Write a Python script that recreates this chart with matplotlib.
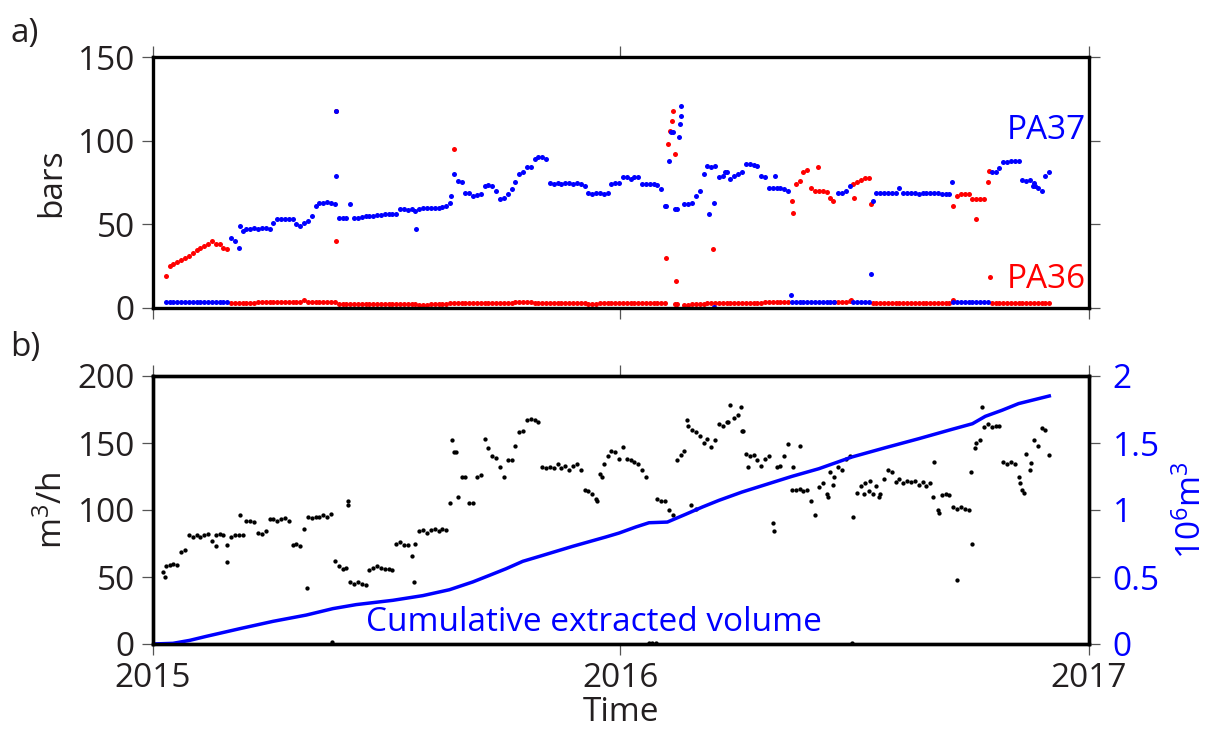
import numpy as np
import matplotlib
matplotlib.use('Agg')
import matplotlib.pyplot as plt
import matplotlib.dates as mdates
from datetime import datetime

plt.rcParams['font.family'] = ['Open Sans', 'DejaVu Sans']
plt.rcParams['mathtext.fontset'] = 'custom'
plt.rcParams['mathtext.rm'] = 'Open Sans'

nan = np.nan

# sampling days (days since 2015-01-01), one reading every 3 days
days = np.arange(10, 701, 3)

# well head pressure (bars), PA36 = red, PA37 = blue
pa36 = [19, 25, 26, 27.5, 28.5, 30, 31, 33, 34.5, 36,
        37, 38.5, 40, 38, 38, 36, 35, 3.2, 3.2, 3.2,
        3.2, 3.2, 3.2, 3.2, 3.4, 3.4, 3.6, 3.6, 3.6, 3.6,
        3.6, 3.6, 3.6, 3.6, 3.8, 3.8, 4.5, 3.8, 3.6, 3.6,
        3.6, 3.6, 3.6, 3.6, 3.6, 2.2, 2.2, 2.2, 2.2, 2.2,
        2.2, 2.2, 2.2, 2.2, 2.2, 2.2, 2.2, 2.2, 2.2, 2.2,
        2.2, 2.2, 2.2, 2.2, 2.2, 2.2, 2, 1.6, 2, 2.2,
        2.2, 2.2, 2.4, 2.6, 3.2, 3.2, 3, 3, 3, 3,
        3, 3, 3.2, 3.2, 3, 3, 3.2, 3.2, 3.2, 3.2,
        3.2, 3.4, 3.4, 3.6, 3.6, 3.4, 3.2, 3.2, 3.2, 2.8,
        2.8, 2.8, 3, 3, 3, 3, 2.8, 2.8, 2.8, 2.8,
        2.6, 2.6, 2.4, 2.8, 3, 3, 3, 3, 3, 3,
        3, 3, 3, 3, 3, 3, 3, 3, 2.8, 2.8,
        2.8, nan, nan, 2.6, nan, 2, 2, 2.2, 2.4, 2.6,
        2.6, 2.8, 3, 3, 3, 3, 3, 3.2, 3.2, 3.2,
        3.2, 3.2, 3.2, 3.2, 3.2, 3.2, 3.4, 3.4, 3.4, 3.4,
        3.4, 3.4, 3.6, 64, 74, 76, 81, 82.5, 72, 70,
        70, 70, 69.5, 66, 3.4, 3.4, 3.6, 3.6, 4, 74,
        75, 76.5, 77.5, 77.5, 3, 3, 3, 3, 3, 3,
        3, 3, 3, 3, 3, 2.8, 2.8, 2.8, 3, 3,
        3, 3, 3, 3, 3.2, 61, 67, 68, 68, 68,
        65, 65, 65, 65, 75, 3.2, 3.2, 3.2, 3.2, 3.2,
        3.2, 3.2, 3, 3, 3, 3, 3, 2.8, 2.8, 2.8,
        2.8]

pa37 = [3.8, 3.8, 3.8, 3.8, 3.8, 3.8, 3.8, 3.8, 3.8, 3.8,
        3.7, 3.7, 3.7, 3.7, 3.6, 3.6, 3.6, 42, 40, 36,
        46, 47, 47, 48, 47, 48, 48, 47, 51, 53,
        53, 53, 53, 53, 50, 49, 51, 52, 55, 61,
        63, 63, 63.5, 63, 62, 54, 54, 54, 62, 54,
        54, 54.5, 55, 55, 55, 55.5, 55.5, 56, 56, 56,
        56, 59, 59, 58.5, 59, 58, 59, 60, 60, 60,
        60, 60, 60.5, 61, 63, 80, 76, 75, 69, 69,
        67, 67.5, 68, 73, 73.5, 73, 70, 65, 66, 68,
        71, 75, 80, 81, 84, 84.5, 89, 90, 90, 89,
        74.5, 74, 74.5, 74, 74.5, 74.5, 74, 74.5, 74, 73,
        68.5, 68, 68.5, 68.5, 68, 69, 74, 74.5, 74.5, 78.4,
        78.5, 77, 78.5, 78, 74, 74, 74, 74, 73.5, 71,
        61, 88, 105, 59, 121, 62, 62, 63, 67, 70,
        80, 85, 84, 85, 78.5, 79, 81, 77, 79, 80,
        81, 86, 86, 85.5, 85, 79, 78.5, 72, 72, 72,
        72, 71, 70, 3.4, 3.4, 3.4, 3.4, 3.4, 3.4, 3.4,
        3.4, 3.4, 3.4, 3.4, 3.4, 69, 69, 70, 73, 3.4,
        3.4, 3.4, 3.4, 3.4, 64, 69, 69, 69, 69, 69,
        69, 71.5, 69, 68.5, 68.5, 68.5, 68, 68.5, 68.5, 68.5,
        68.5, 68.5, 68, 68, 68, 3.4, 3.4, 3.4, 3.4, 3.4,
        3.4, 3.4, 3.4, 3.4, 3.4, 81, 81.5, 83.5, 87, 87.4,
        87.6, 87.8, 88, 76.5, 76, 76.5, 74.5, 72, 70, 79,
        81]

# isolated readings between the regular samples
pa36_x_day = [143, 143, 235.4, 401, 402.5, 403.7, 405, 406, 408, 408.2, 407.5,
              437.5, 499.5, 519, 531, 545.5, 547.4, 561, 625, 642.4, 652.8, 654]
pa36_x_val = [118, 40, 95, 29.6, 98, 106, 112, 118, 92, 16.4, 2.6,
              35, 57, 84, 64, 5, 66, 62, 5, 53, 82, 18.6]
pa37_x_day = [68, 143, 143.3, 205.5, 233, 401, 404.3, 407.8, 410.8, 411.3, 412.5,
              434.2, 438.3, 438.3, 447, 486, 498, 561, 624, 687, 689]
pa37_x_val = [49, 118, 79, 47, 67, 61, 105, 59, 102, 110, 115,
              56, 63, 0.3, 81.5, 78.6, 8, 20.6, 75, 73, 73]

# pumping rate (m3/h)
flow = [58, 59, 60, 59, 69, 70, 81, 80, 81, 80,
        81, 82, 77, 81, 82, 81, 74, 80, 81, 81,
        81, 92, 92, 91, 83, 82, 84, 93, 93, 92,
        93, 94, 92, 74, 75, 73, 86, 95, 94, 95,
        95, 96, 95, 97, 62, 58, 56, 57, 46, 45,
        46, 45, 44, 55, 57, 58, 57, 56, 56, 55,
        75, 76, 74, 74, 66, 75, 84, 85, 83, 85,
        86, 84, 86, 85, 105, 143, 110, 125, 125, 105,
        105, 125, 126, 153, 146, 140, 139, 132, 125, 137,
        137, 148, 158, 159, 167, 168, 167, 166, 132, 131,
        132, 131, 134, 131, 133, 130, 133, 134, 130, 115,
        114, 112, 108, 127, 134, 140, 144, 143, 138, 147,
        138, 137, 136, 134, 130, 125, nan, nan, 108, 107,
        107, 100, 96, 137, 141, 144, 163, 160, 158, 155,
        150, 153, 147, 152, 164, 163, 166, 178, 169, 171,
        159, 142, 140, 141, 137, 133, 138, 140, 90, 132,
        133, 140, 149, 115, 115, 116, 114, 115, 107, 96,
        117, 120, 112, 128, 125, 132, 130, 138, 140, 95,
        113, 118, 120, 114, 112, 118, 112, 123, 130, 128,
        121, 123, 120, 122, 121, 122, 119, 121, 118, 120,
        136, 100, 111, 112, 111, 102, 101, 102, 101, 100,
        75, 150, 152, 162, 164, 162, 163, 163, 136, 134,
        136, 134, 125, 115, 142, 130, 152, 148, 161, 160,
        141]

flow_x_day = [8, 9, 49, 58, 68, 120, 140, 152, 152.5, 204, 233.5, 236.5,
              347, 351, 387, 390, 393, 417, 420, 424, 449, 459, 461, 465,
              485, 500, 505.5, 527, 531, 546, 555, 560, 567, 609, 614, 628,
              639, 642, 647.5, 677, 680, 686]
flow_x_val = [54, 50, 73, 61, 96, 42, 1.5, 107, 104, 46, 152, 143.5,
              107, 125, 0.5, 0.5, 0.5, 167, 104, 101, 166, 177, 159, 132,
              84, 132, 148, 110, 119, 0.5, 112, 122, 110, 110, 98, 48,
              128, 146, 177, 120, 113, 135]

# cumulative extracted volume (10^6 m3)
cum_day = [0, 15.6, 28.6, 41.6, 67.6, 93.7, 119.7, 140.5, 158.7, 187.3, 210.7,
           231.5, 249.7, 262.7, 275.8, 288.8, 301.8, 327.8, 353.8, 364, 377,
           387.4, 401.7, 416, 429, 442, 460, 481, 499, 520, 546, 572, 598,
           624, 640, 650, 663, 676, 700]
cum_vol = [0, 0.005, 0.027, 0.057, 0.114, 0.169, 0.216, 0.264, 0.294, 0.326,
           0.361, 0.405, 0.463, 0.512, 0.562, 0.617, 0.654, 0.729, 0.799, 0.828,
           0.873, 0.905, 0.91, 0.968, 1.022, 1.072, 1.134, 1.197, 1.251, 1.308,
           1.396, 1.465, 1.532, 1.602, 1.644, 1.699, 1.744, 1.794, 1.851]

t0 = mdates.date2num(datetime(2015, 1, 1))
t16 = mdates.date2num(datetime(2016, 1, 1))
t17 = mdates.date2num(datetime(2017, 1, 1))

txt = '#231f20'
fs = 24

W, H = 1216, 731
fig = plt.figure(figsize=(W / 100, H / 100), dpi=100)
ax1 = fig.add_axes([153 / W, 1 - 308 / H, 936 / W, 251 / H])
ax2 = fig.add_axes([153 / W, 1 - 644 / H, 936 / W, 268 / H])
ax3 = ax2.twinx()


def style(ax):
    for s in ax.spines.values():
        s.set_linewidth(2.4)
    ax.tick_params(direction='out', length=8, width=0.9, color='#555555',
                   labelsize=fs, pad=5, labelcolor=txt)
    ax.set_xlim(t0, t17)
    ax.set_xticks([t0, t16, t17])
    ax.set_xticklabels(['2015', '2016', '2017'])


# panel a
style(ax1)
ms = 3.6
ax1.plot(t0 + days, pa36, 'o', color='red', ms=ms, mew=0)
ax1.plot(t0 + np.array(pa36_x_day), pa36_x_val, 'o', color='red', ms=ms, mew=0)
ax1.plot(t0 + days, pa37, 'o', color='blue', ms=ms, mew=0)
ax1.plot(t0 + np.array(pa37_x_day), pa37_x_val, 'o', color='blue', ms=ms, mew=0)
ax1.set_ylim(0, 150)
ax1.set_yticks([0, 50, 100, 150])
ax1.tick_params(top=True, right=True, labelbottom=False)
ax1.set_ylabel('bars', fontsize=fs, color=txt)
ax1.yaxis.set_label_coords(-0.091, 0.5)
ax1.text(0.997, 0.709, 'PA37', color='blue', fontsize=fs, ha='right', va='center',
         transform=ax1.transAxes)
ax1.text(0.997, 0.112, 'PA36', color='red', fontsize=fs, ha='right', va='center',
         transform=ax1.transAxes)

# panel b
style(ax2)
ax2.plot(t0 + days, flow, 'o', color='black', ms=3.1, mew=0, clip_on=False)
ax2.plot(t0 + np.array(flow_x_day), flow_x_val, 'o', color='black', ms=3.1, mew=0,
         clip_on=False)
ax2.set_ylim(0, 200)
ax2.set_yticks([0, 50, 100, 150, 200])
ax2.tick_params(top=True, right=False)
ax2.set_ylabel(r'$\mathrm{m^3/h}$', fontsize=fs, color=txt)
ax2.yaxis.set_label_coords(-0.0887, 0.5)
ax2.set_xlabel('Time', fontsize=fs, color=txt, labelpad=1)

ax3.plot(t0 + np.array(cum_day), cum_vol, '-', color='blue', lw=2.5,
         solid_joinstyle='round')
ax3.set_ylim(0, 2)
ax3.set_yticks([0, 0.5, 1, 1.5, 2])
ax3.set_yticklabels(['0', '0.5', '1', '1.5', '2'])
for s in ax3.spines.values():
    s.set_linewidth(2.4)
ax3.tick_params(direction='out', length=8, width=0.9, color='#555555',
                labelsize=fs, pad=9, labelcolor='blue')
ax3.set_ylabel(r'$\mathrm{10^6m^3}$', fontsize=fs, color='blue')
ax3.yaxis.set_label_coords(1.092, 0.5)
ax3.text(0.2276, 0.082, 'Cumulative extracted volume', color='blue', fontsize=fs,
         ha='left', va='center', transform=ax3.transAxes)

fig.text(10 / W, 1 - 17 / H, 'a)', fontsize=fs, color=txt, ha='left', va='top')
fig.text(10 / W, 1 - 331 / H, 'b)', fontsize=fs, color=txt, ha='left', va='top')

fig.savefig('out.png', dpi=100)
